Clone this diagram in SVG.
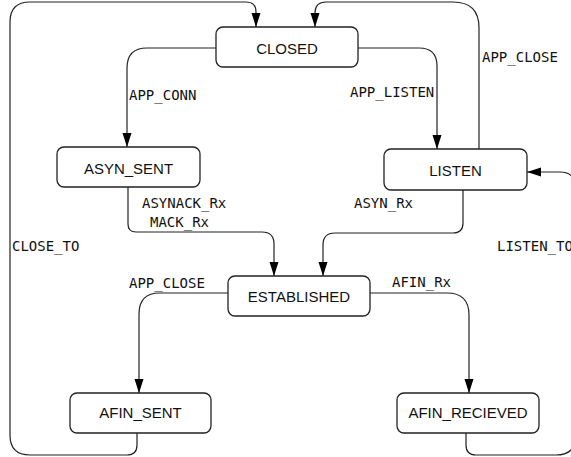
<svg xmlns="http://www.w3.org/2000/svg" width="571" height="457" viewBox="0 0 571 457">
<defs>
<marker id="arr" markerWidth="14" markerHeight="10" refX="14" refY="5" orient="auto" markerUnits="userSpaceOnUse">
<path d="M0,0.5 L14,5 L0,9.5 Z" fill="#000"/>
</marker>
</defs>
<style>
.node rect{fill:#fff;stroke:#222;stroke-width:1.3}
.node text{font-family:"Liberation Sans",Arial,sans-serif;font-size:15px;fill:#111;text-anchor:middle}
.edge path{fill:none;stroke:#222;stroke-width:1.2}
.lbl{font-family:"DejaVu Sans Mono",monospace;font-size:14px;fill:#111}
</style>
<rect width="571" height="457" fill="#fff"/>
<g id="connectors" class="edge">
<path d="M216,48 H147 Q127,48 127,68 V147" marker-end="url(#arr)"/>
<path d="M358,48 H419 Q437,48 437,66 V149" marker-end="url(#arr)"/>
<path d="M479,149 V28 Q479,2 453,2 H326 Q315,2 315,13 V27" marker-end="url(#arr)"/>
<path d="M128,187 V224 Q128,232 136,232 H262 Q274,232 274,244 V276" marker-end="url(#arr)"/>
<path d="M463,190 V223 Q463,233 453,233 H335 Q323,233 323,245 V276" marker-end="url(#arr)"/>
<path d="M228,293 H160 Q139,293 139,314 V393" marker-end="url(#arr)"/>
<path d="M370,293 H447 Q469,293 469,315 V393" marker-end="url(#arr)"/>
<path d="M137,433 V445 Q137,455 127,455 H30 Q10,455 10,435 V22 Q10,2 30,2 H246 Q256,2 256,12 V27" marker-end="url(#arr)"/>
<path d="M466,433 V445 Q466,455 476,455 H556 Q576,455 576,435 V190 Q576,172 560,172 H527" marker-end="url(#arr)"/>
</g>
<g id="labels" class="lbl">
<text x="129" y="99.5">APP_CONN</text>
<text x="350" y="97">APP_LISTEN</text>
<text x="482" y="62">APP_CLOSE</text>
<text x="142" y="208">ASYNACK_Rx</text>
<text x="150" y="227">MACK_Rx</text>
<text x="354" y="208">ASYN_Rx</text>
<text x="12" y="251">CLOSE_TO</text>
<text x="497" y="251">LISTEN_TO</text>
<text x="129" y="288">APP_CLOSE</text>
<text x="392" y="287">AFIN_Rx</text>
</g>
<g id="closed" class="node"><rect x="216" y="27" width="142" height="40" rx="7"/><text x="287" y="54">CLOSED</text></g>
<g id="asyn_sent" class="node"><rect x="57" y="147" width="143" height="40" rx="7"/><text x="128.5" y="174">ASYN_SENT</text></g>
<g id="listen" class="node"><rect x="384" y="149" width="143" height="41" rx="7"/><text x="455.5" y="176">LISTEN</text></g>
<g id="established" class="node"><rect x="228" y="276" width="142" height="40" rx="7"/><text x="299" y="302">ESTABLISHED</text></g>
<g id="afin_sent" class="node"><rect x="70" y="393" width="141" height="40" rx="7"/><text x="140.5" y="418">AFIN_SENT</text></g>
<g id="afin_recieved" class="node"><rect x="397" y="393" width="142" height="40" rx="7"/><text x="468" y="418">AFIN_RECIEVED</text></g>
</svg>
